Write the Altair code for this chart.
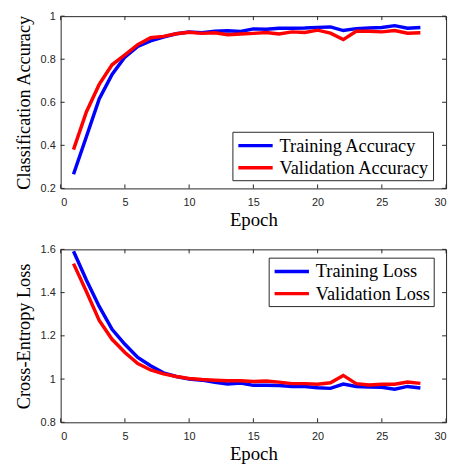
import altair as alt
import pandas as pd

epochs = list(range(1, 29))
train_acc = [0.266, 0.44, 0.615, 0.729, 0.81, 0.86, 0.885, 0.903, 0.918, 0.926,
             0.923, 0.93, 0.932, 0.929, 0.941, 0.939, 0.944, 0.944, 0.945, 0.948,
             0.95, 0.933, 0.942, 0.945, 0.947, 0.956, 0.944, 0.947]
val_acc = [0.38, 0.555, 0.683, 0.774, 0.82, 0.868, 0.9, 0.906, 0.918, 0.925,
           0.92, 0.923, 0.914, 0.917, 0.92, 0.924, 0.917, 0.927, 0.924, 0.935,
           0.921, 0.891, 0.93, 0.93, 0.927, 0.933, 0.921, 0.923]
train_loss = [1.591, 1.458, 1.336, 1.23, 1.161, 1.1, 1.062, 1.029, 1.012, 1.0,
              0.995, 0.985, 0.977, 0.982, 0.971, 0.971, 0.97, 0.966, 0.966, 0.96,
              0.957, 0.977, 0.966, 0.963, 0.962, 0.953, 0.966, 0.959]
val_loss = [1.534, 1.405, 1.271, 1.184, 1.123, 1.072, 1.042, 1.024, 1.012, 1.003,
            0.998, 0.995, 0.992, 0.992, 0.989, 0.991, 0.986, 0.979, 0.979, 0.976,
            0.983, 1.017, 0.979, 0.973, 0.976, 0.976, 0.986, 0.98]
acc_series = ["Training Accuracy", "Validation Accuracy"]
loss_series = ["Training Loss", "Validation Loss"]
x_ticks = [0, 5, 10, 15, 20, 25, 30]
acc_ticks = [0.2, 0.4, 0.6, 0.8, 1.0]
loss_ticks = [0.8, 1.0, 1.2, 1.4, 1.6]

W = 390
INK = "#262626"
SERIF = "Liberation Serif"
SANS = "Liberation Sans"
TICK = 4


def make_df(a, b, names):
    return pd.DataFrame({
        "epoch": epochs + epochs,
        "value": a + b,
        "series": [names[0]] * len(a) + [names[1]] * len(b),
    })


def panel(df, names, ydom, yticks, ytitle, lx, ly, H):
    xs = alt.Scale(domain=[0, 30], nice=False, zero=False)
    ys = alt.Scale(domain=ydom, nice=False, zero=False)
    main_x = alt.Axis(values=x_ticks, title="Epoch", orient="bottom", domain=False,
                      ticks=False, tickSize=0, grid=False, labelPadding=8.7,
                      titlePadding=3, format="d")
    main_y = alt.Axis(values=yticks, title=ytitle, orient="left", domain=False,
                      ticks=False, tickSize=0, grid=False, labelPadding=5.5,
                      titlePadding=7, titleFontSize=18.5, format="~g")
    legend = alt.Legend(title=None, orient="none", legendX=lx, legendY=ly,
                        symbolType="M-0.89,0H2.97", symbolSize=324,
                        symbolStrokeWidth=3.5, labelFont=SERIF, labelFontSize=18.5,
                        labelColor="black", labelOffset=22.7, labelLimit=400,
                        padding=3, rowPadding=1.4, strokeColor=INK,
                        fillColor="white", cornerRadius=0)
    lines = alt.Chart(df).mark_line(strokeWidth=3.5).encode(
        x=alt.X("epoch:Q", scale=xs, axis=main_x),
        y=alt.Y("value:Q", scale=ys, axis=main_y),
        color=alt.Color("series:N",
                        scale=alt.Scale(domain=names, range=["#0000ff", "#ff0000"]),
                        legend=legend),
    )
    xt = pd.DataFrame({"t": x_ticks})
    yt = pd.DataFrame({"t": yticks})
    xtick_bot = alt.Chart(xt).mark_rule(color=INK, strokeWidth=1).encode(
        x=alt.X("t:Q", scale=xs, axis=None),
        y=alt.value(H), y2=alt.value(H - TICK))
    xtick_top = alt.Chart(xt).mark_rule(color=INK, strokeWidth=1).encode(
        x=alt.X("t:Q", scale=xs, axis=None),
        y=alt.value(0), y2=alt.value(TICK))
    ytick_left = alt.Chart(yt).mark_rule(color=INK, strokeWidth=1).encode(
        y=alt.Y("t:Q", scale=ys, axis=None),
        x=alt.value(0), x2=alt.value(TICK))
    ytick_right = alt.Chart(yt).mark_rule(color=INK, strokeWidth=1).encode(
        y=alt.Y("t:Q", scale=ys, axis=None),
        x=alt.value(W), x2=alt.value(W - TICK))
    return (alt.layer(xtick_bot, xtick_top, ytick_left, ytick_right, lines)
            .resolve_axis(x="independent", y="independent")
            .properties(width=W, height=H,
                        view=alt.ViewBackground(stroke=INK, strokeWidth=1)))


top = panel(make_df(train_acc, val_acc, acc_series), acc_series, [0.2, 1.0],
            acc_ticks, "Classification Accuracy", 173.8, 117, 174.3)
bottom = panel(make_df(train_loss, val_loss, loss_series), loss_series, [0.8, 1.6],
               loss_ticks, "Cross-Entropy Loss", 210.5, 8.4, 175)

chart = (alt.vconcat(top, bottom, spacing=61, bounds="flush")
         .resolve_scale(color="independent")
         .resolve_legend(color="independent")
         .properties(padding={"left": 5.3, "top": -1.5, "right": 5, "bottom": 2},
                     background="white")
         .configure_view(stroke=INK, strokeWidth=1)
         .configure_axis(labelFont=SANS, labelFontSize=11, labelColor=INK,
                         titleFont=SERIF, titleFontSize=19, titleFontWeight="normal",
                         titleColor="black"))

chart.save("out.html", embed_options={"renderer": "svg", "actions": False})
